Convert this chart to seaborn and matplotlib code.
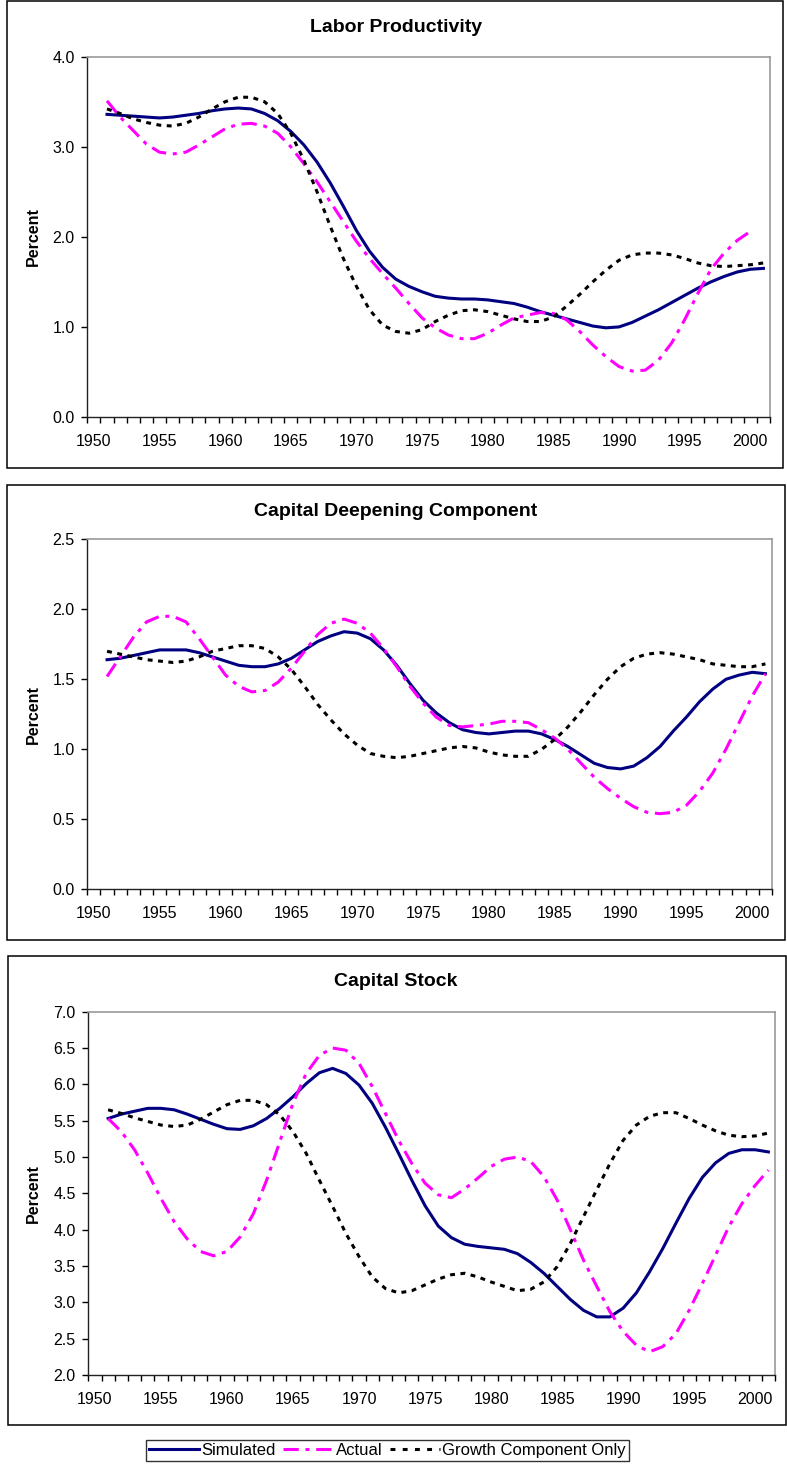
import numpy as np
import pandas as pd
import matplotlib
matplotlib.use("Agg")
import matplotlib.pyplot as plt
from matplotlib.patches import Rectangle
from matplotlib.lines import Line2D
import seaborn as sns

plt.rcParams['font.family'] = ['Liberation Sans', 'DejaVu Sans']

years = list(range(1951, 2002))
series_names = ['Simulated', 'Actual', 'Growth Component Only']

# --- Labor Productivity ---
lp_simulated = [3.36, 3.35, 3.34, 3.33, 3.32, 3.33, 3.35, 3.37, 3.40, 3.42,
                3.43, 3.42, 3.37, 3.29, 3.17, 3.02, 2.83, 2.60, 2.34, 2.07,
                1.84, 1.66, 1.53, 1.45, 1.39, 1.34, 1.32, 1.31, 1.31, 1.30,
                1.28, 1.26, 1.22, 1.17, 1.13, 1.09, 1.05, 1.01, 0.99, 1.00,
                1.05, 1.12, 1.19, 1.27, 1.35, 1.43, 1.50, 1.56, 1.61, 1.64, 1.65]
lp_actual = [3.51, 3.33, 3.18, 3.03, 2.94, 2.92, 2.94, 3.02, 3.11, 3.20,
             3.25, 3.26, 3.23, 3.15, 3.00, 2.81, 2.61, 2.39, 2.17, 1.95,
             1.76, 1.59, 1.43, 1.26, 1.10, 0.99, 0.91, 0.87, 0.87, 0.93,
             1.02, 1.10, 1.13, 1.16, 1.15, 1.08, 0.95, 0.80, 0.67, 0.56,
             0.51, 0.52, 0.63, 0.82, 1.08, 1.37, 1.64, 1.82, 1.96, 2.06, np.nan]
lp_growth = [3.42, 3.37, 3.31, 3.27, 3.24, 3.23, 3.26, 3.33, 3.42, 3.50,
             3.55, 3.55, 3.50, 3.37, 3.15, 2.85, 2.50, 2.12, 1.76, 1.45,
             1.19, 1.02, 0.95, 0.93, 0.97, 1.06, 1.13, 1.18, 1.19, 1.17,
             1.13, 1.09, 1.06, 1.06, 1.11, 1.23, 1.36, 1.50, 1.63, 1.74,
             1.80, 1.82, 1.82, 1.80, 1.76, 1.71, 1.68, 1.67, 1.68, 1.69, 1.71]

# --- Capital Deepening Component ---
cd_simulated = [1.64, 1.65, 1.67, 1.69, 1.71, 1.71, 1.71, 1.69, 1.66, 1.63,
                1.60, 1.59, 1.59, 1.61, 1.65, 1.71, 1.77, 1.81, 1.84, 1.83,
                1.79, 1.71, 1.60, 1.47, 1.35, 1.26, 1.19, 1.14, 1.12, 1.11,
                1.12, 1.13, 1.13, 1.11, 1.07, 1.02, 0.96, 0.90, 0.87, 0.86,
                0.88, 0.94, 1.02, 1.13, 1.23, 1.34, 1.43, 1.50, 1.53, 1.55, 1.54]
cd_actual = [1.52, 1.66, 1.80, 1.91, 1.95, 1.95, 1.91, 1.79, 1.66, 1.53,
             1.45, 1.41, 1.42, 1.48, 1.58, 1.70, 1.82, 1.90, 1.93, 1.90,
             1.83, 1.72, 1.59, 1.45, 1.33, 1.23, 1.17, 1.16, 1.17, 1.18,
             1.20, 1.20, 1.19, 1.14, 1.08, 1.00, 0.90, 0.80, 0.72, 0.65,
             0.59, 0.55, 0.54, 0.55, 0.60, 0.70, 0.83, 1.00, 1.19, 1.38, 1.54]
cd_growth = [1.70, 1.68, 1.66, 1.64, 1.63, 1.62, 1.63, 1.66, 1.70, 1.72,
             1.74, 1.74, 1.72, 1.66, 1.57, 1.45, 1.32, 1.21, 1.11, 1.03,
             0.97, 0.95, 0.94, 0.95, 0.97, 0.99, 1.01, 1.02, 1.01, 0.98,
             0.96, 0.95, 0.95, 1.00, 1.07, 1.16, 1.27, 1.39, 1.50, 1.59,
             1.65, 1.68, 1.69, 1.68, 1.66, 1.64, 1.61, 1.60, 1.59, 1.59, 1.61]

# --- Capital Stock ---
cs_simulated = [5.53, 5.59, 5.63, 5.67, 5.67, 5.65, 5.59, 5.52, 5.45, 5.39,
                5.38, 5.43, 5.53, 5.67, 5.83, 6.01, 6.16, 6.22, 6.15, 5.99,
                5.74, 5.41, 5.05, 4.68, 4.33, 4.05, 3.89, 3.80, 3.77, 3.75,
                3.73, 3.67, 3.55, 3.40, 3.22, 3.04, 2.89, 2.80, 2.80, 2.92,
                3.13, 3.42, 3.74, 4.09, 4.43, 4.72, 4.92, 5.05, 5.10, 5.10, 5.07]
cs_actual = [5.53, 5.35, 5.10, 4.78, 4.43, 4.11, 3.87, 3.70, 3.64, 3.70,
             3.90, 4.22, 4.68, 5.21, 5.74, 6.15, 6.40, 6.50, 6.47, 6.29,
             5.97, 5.60, 5.23, 4.91, 4.64, 4.48, 4.44, 4.56, 4.71, 4.87,
             4.97, 5.00, 4.94, 4.73, 4.41, 4.00, 3.58, 3.22, 2.87, 2.60,
             2.41, 2.32, 2.39, 2.57, 2.89, 3.26, 3.65, 4.04, 4.36, 4.61, 4.82]
cs_growth = [5.65, 5.60, 5.54, 5.49, 5.44, 5.42, 5.44, 5.52, 5.62, 5.72,
             5.78, 5.78, 5.72, 5.58, 5.35, 5.05, 4.68, 4.32, 3.95, 3.63,
             3.35, 3.19, 3.13, 3.16, 3.24, 3.32, 3.38, 3.40, 3.35, 3.28,
             3.22, 3.16, 3.18, 3.28, 3.49, 3.81, 4.18, 4.55, 4.91, 5.23,
             5.44, 5.56, 5.61, 5.61, 5.53, 5.44, 5.36, 5.30, 5.28, 5.29, 5.33]

W, H = 787, 1472
fig = plt.figure(figsize=(W / 100, H / 100), dpi=100)

colors = {'Simulated': '#000080', 'Actual': '#FF00FF', 'Growth Component Only': '#000000'}
dashes = {'Simulated': '', 'Actual': (5, 2.2, 1.3, 2.2), 'Growth Component Only': (1.6, 1.8)}


def fig_rect(l, t, r, b):
    return [l / W, 1 - b / H, (r - l) / W, (b - t) / H]


panels = [
    # title, data, ylim, ystep, axes box, frame box, title y
    ('Labor Productivity', (lp_simulated, lp_actual, lp_growth), (0, 4), 1.0,
     (87.3, 56.7, 770, 417), (7, 1, 783, 468), 27),
    ('Capital Deepening Component', (cd_simulated, cd_actual, cd_growth), (0, 2.5), 0.5,
     (87.3, 539.3, 772, 889.3), (7, 485, 785, 940), 512),
    ('Capital Stock', (cs_simulated, cs_actual, cs_growth), (2, 7), 0.5,
     (88.3, 1011.7, 775, 1375), (8, 956, 786, 1425), 982),
]

for title, values, ylim, ystep, abox, fbox, ty in panels:
    l, t, r, b = fbox
    fig.patches.append(Rectangle((l / W, 1 - b / H), (r - l) / W, (b - t) / H,
                                 transform=fig.transFigure, fill=False,
                                 edgecolor='black', lw=1.1))
    ax = fig.add_axes(fig_rect(*abox))
    df = pd.DataFrame({
        'Year': years * 3,
        'Percent': np.concatenate(values),
        'Series': np.repeat(series_names, len(years)),
    }).dropna()
    sns.lineplot(data=df, x='Year', y='Percent', hue='Series', style='Series',
                 hue_order=series_names, style_order=series_names,
                 palette=colors, dashes=dashes, lw=2.2, estimator=None,
                 legend=False, ax=ax)
    ax.set_xlim(1949.5, 2001.5)
    ax.set_ylim(*ylim)
    ax.set_xticks(range(1950, 2001, 5))
    ax.set_xticks(np.arange(1949.5, 2002, 1), minor=True)
    ax.tick_params(axis='x', which='major', length=0, pad=12, labelsize=11.5)
    ax.tick_params(axis='x', which='minor', length=4, width=1, direction='out')
    ax.set_yticks(np.arange(ylim[0], ylim[1] + 0.001, ystep))
    ax.set_yticklabels([f'{v:.1f}' for v in np.arange(ylim[0], ylim[1] + 0.001, ystep)])
    ax.tick_params(axis='y', length=4, width=1, direction='out', pad=5, labelsize=11.5)
    ax.set_xlabel('')
    ax.set_ylabel('')
    for s in ['left', 'bottom']:
        ax.spines[s].set_color('#222222')
        ax.spines[s].set_linewidth(1.0)
    for s in ['top', 'right']:
        ax.spines[s].set_color('#999999')
        ax.spines[s].set_linewidth(1.2)
    ax.grid(False)
    fig.text(396 / W, 1 - ty / H, title, ha='center', va='center',
             fontsize=14, fontweight='bold')
    fig.text(33 / W, 1 - (abox[1] + abox[3]) / 2 / H, 'Percent', rotation=90,
             ha='center', va='center', fontsize=11.5, fontweight='bold')

handles = [
    Line2D([], [], color=colors['Simulated'], lw=2.2),
    Line2D([], [], color=colors['Actual'], lw=2.2, dashes=(5, 2.2, 1.3, 2.2)),
    Line2D([], [], color='black', lw=2.2, dashes=(1.6, 2.4)),
]
leg = fig.legend(handles, series_names, loc='center', bbox_to_anchor=(387.5 / W, 1 - 1450.5 / H),
                 ncol=3, frameon=True, fancybox=False, fontsize=12,
                 handlelength=3.0, handletextpad=0.15, columnspacing=0.45,
                 borderpad=0.2, borderaxespad=0)
leg.get_frame().set_edgecolor('black')
leg.get_frame().set_linewidth(1.0)

fig.savefig('out.png', dpi=100)
